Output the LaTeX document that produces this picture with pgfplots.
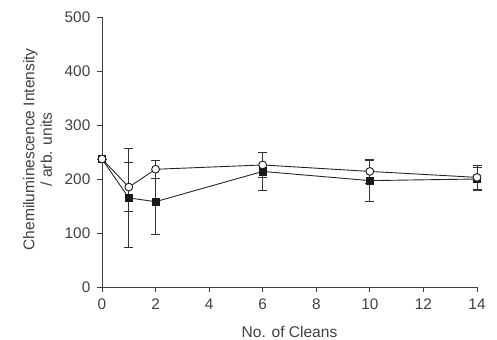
\documentclass[border=0pt]{standalone}
\usepackage{fontspec}
\setmainfont{Liberation Sans}
\usepackage{pgfplots}
\pgfplotsset{compat=1.18}
\begin{document}
\begin{tikzpicture}
\useasboundingbox (-102bp,-53bp) rectangle (395bp,287bp);
\begin{axis}[
  at={(0,0)}, anchor=origin,
  scale only axis,
  width=375bp, height=270bp,
  xmin=0, xmax=14, ymin=0, ymax=500,
  axis lines*=left,
  axis line style={black!75, line width=0.9pt},
  xtick={0,2,...,14}, ytick={0,100,...,500},
  tick align=outside,
  major tick length=4.5bp,
  tick style={black!75, line width=0.8pt},
  /pgf/number format/assume math mode=true,
  ticklabel style={font=\fontsize{15.4}{17}\selectfont, text=black!75},
  yticklabel style={inner sep=2bp, xshift=-5bp},
  xticklabel style={inner sep=2bp, yshift=-5bp},
  xlabel={No. of Cleans},
  ylabel={Chemiluminescence Intensity\\/ arb. units},
  label style={font=\fontsize{15.6}{17.5}\selectfont, text=black!75, align=center},
  xlabel style={at={(axis description cs:0.5,0)}, anchor=base, yshift=-50bp},
  ylabel style={at={(axis description cs:-0.172,0.51)}, anchor=center},
  clip=false,
]
\addplot[black!85, line width=0.9pt, mark=square*, mark size=3.6bp,
  mark options={fill=black!90, draw=black!90},
  error bars/.cd, y dir=both, y explicit,
  error mark options={rotate=90, mark size=4.5bp, line width=0.9pt, black!80},
  error bar style={line width=0.9pt, black!80}]
coordinates {
  (0,237) +- (0,0)
  (1,165) +- (0,91)
  (2,158) +- (0,60)
  (6,214) +- (0,36)
  (10,197) +- (0,38)
  (14,200) +- (0,22)
};
\addplot[black!85, line width=0.9pt, mark=*, mark size=3.9bp,
  mark options={fill=white, draw=black!90, line width=0.9pt},
  error bars/.cd, y dir=both, y explicit,
  error mark options={rotate=90, mark size=4.5bp, line width=0.9pt, black!80},
  error bar style={line width=0.9pt, black!80}]
coordinates {
  (0,237) +- (0,0)
  (1,185) +- (0,45)
  (2,218) +- (0,17)
  (6,226) +- (0,23)
  (10,214) +- (0,22)
  (14,203) +- (0,22)
};
\end{axis}
\end{tikzpicture}
\end{document}
